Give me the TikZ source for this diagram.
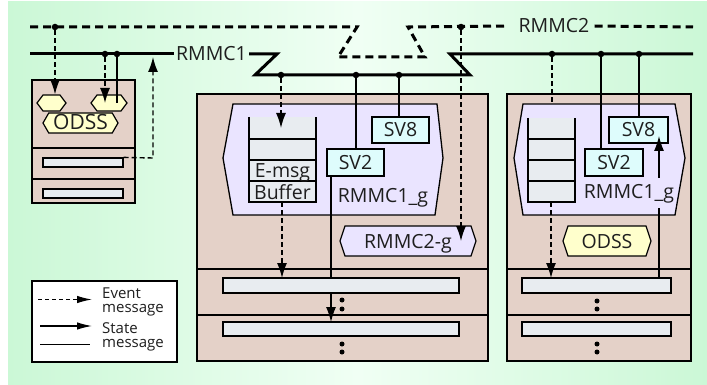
\documentclass[tikz,border=0pt]{standalone}
\usepackage{fontspec}
\setmainfont{Open Sans}
\usetikzlibrary{arrows.meta,shapes.symbols}

\definecolor{bggreen}{RGB}{166,240,184}
\definecolor{bgpale}{RGB}{240,255,244}
\definecolor{unitfill}{RGB}{228,209,200}
\definecolor{groupfill}{RGB}{234,228,255}
\definecolor{barfill}{RGB}{232,236,240}
\definecolor{svfill}{RGB}{222,252,252}
\definecolor{odssfill}{RGB}{255,255,204}
\definecolor{ink}{RGB}{30,30,30}

% green at both sides, almost white in the middle
\pgfdeclarehorizontalshading{bgshade}{100bp}{color(0bp)=(bggreen); color(50bp)=(bgpale); color(100bp)=(bggreen)}

\newcommand\lblfont{\fontsize{19.5}{21}\selectfont}
\newcommand\legfont{\fontsize{15}{16}\selectfont}

\begin{document}
\begin{tikzpicture}[x=1pt,y=-1pt,line join=miter,
  bus/.style={line width=3pt},
  busdash/.style={line width=3pt,dash pattern=on 8pt off 5pt},
  evt/.style={line width=1.4pt,dash pattern=on 5pt off 3pt},
  sta/.style={line width=1.2pt},
  tip/.style={-{Latex[length=15pt,width=10pt]}},
  legtip/.style={-{Latex[length=15pt,width=7.5pt]}},
  tap/.style={circle,fill,inner sep=0pt,minimum size=6.5pt},
  pip/.style={circle,fill,inner sep=0pt,minimum size=5pt},
  box/.style={draw,line width=1.3pt,inner sep=0pt},
  unit/.style={box,fill=unitfill},
  bar/.style={box,fill=barfill,line width=1.2pt},
  caps/.style={text=ink,font=\lblfont,text height=14pt,text depth=0pt,inner sep=0pt},
  svbox/.style={box,caps,fill=svfill},
  hexbox/.style={signal,signal to=west and east,signal from=nowhere,draw,
    line width=1.2pt,caps},
  group/.style={draw,line width=1.3pt,fill=groupfill},
  buslabel/.style={text=ink,font=\lblfont,inner sep=2pt,text height=14pt,text depth=0pt},
  legtext/.style={text=ink,font=\legfont,anchor=base west,inner sep=0pt}
]
\useasboundingbox (0,0) rectangle (707,385);
\fill[white] (0,0) rectangle (707,385);
\shade[shading=bgshade] (8,2) rectangle (707,385);

% ---------- processing units ----------
\node[unit,minimum width=103pt,minimum height=123pt] (uleft) at (83.5,141.5) {};
\draw[sta] (32,148) -- (135,148) (32,179) -- (135,179);
\node[unit,minimum width=291pt,minimum height=267pt] (umid) at (342.5,227.5) {};
\draw[sta] (197,269) -- (488,269) (197,315) -- (488,315);
\node[unit,minimum width=184pt,minimum height=267pt] (uright) at (599,227.5) {};
\draw[sta] (507,269) -- (691,269) (507,315) -- (691,315);

% ---------- group outlines ----------
\draw[group] (233,104) -- (437,104) -- (443,158) -- (435,215) -- (233,215) -- (223,158) -- cycle;
\draw[group] (523,104) -- (675,104) -- (685,158) -- (675,215) -- (523,215) -- (514,158) -- cycle;

% ---------- message buffers (open at the top) ----------
\fill[barfill] (249,117) rectangle (316,202);
\draw[sta] (249,117) -- (249,202) -- (316,202) -- (316,117);
\draw[sta] (249,139) -- (316,139) (249,160) -- (316,160) (249,181) -- (316,181);
\node[caps] (emsg) at (282.5,170.5) {E-msg};
\node[caps] (buffer) at (282.5,192) {Buffer};

\fill[barfill] (528,118) rectangle (575,202);
\draw[sta] (528,118) -- (528,202) -- (575,202) -- (575,118);
\draw[sta] (528,139) -- (575,139) (528,160) -- (575,160) (528,181) -- (575,181);

% ---------- state variables and group names ----------
\node[svbox,minimum width=57pt,minimum height=26pt] (sv8m) at (400.5,130) {SV8};
\node[svbox,minimum width=57pt,minimum height=27pt] (sv2m) at (355.5,162.5) {SV2};
\node[caps] (gmid) at (383,195) {RMMC1\_g};
\node[svbox,minimum width=59pt,minimum height=26pt] (sv8r) at (638.5,130) {SV8};
\node[svbox,minimum width=58pt,minimum height=27pt] (sv2r) at (614,162.5) {SV2};
\node[caps] (gright) at (629,191.5) {RMMC1\_g};

% ---------- gateways and ODSS ----------
\node[hexbox,fill=groupfill,minimum width=136pt,minimum height=30pt,signal pointer angle=143] (g2) at (408,241) {RMMC2-g};
\node[hexbox,fill=odssfill,minimum width=88pt,minimum height=30pt,signal pointer angle=143] (odssr) at (607,241) {ODSS};
\node[hexbox,fill=odssfill,minimum width=75pt,minimum height=20pt,signal pointer angle=120] (odssl) at (80.5,123) {\fontsize{21}{22}\selectfont ODSS};
\node[hexbox,fill=odssfill,minimum width=29pt,minimum height=16pt,signal pointer angle=106] (h1) at (51.5,103) {};
\node[hexbox,fill=odssfill,minimum width=36pt,minimum height=16pt,signal pointer angle=106] (h2) at (109,103) {};

% ---------- networks ----------
\node[buslabel] (n2) at (554,26) {RMMC2};
\draw[busdash] (30,27) -- (357,27) -- (338,57) -- (425,57) -- (408,27) -- ([xshift=-11pt]n2.west);
\draw[busdash] ([xshift=3pt]n2.east) -- (693,27);
\node[buslabel] (n1) at (211.5,54) {RMMC1};
\draw[bus] (30,54) -- (n1.west);
\draw[bus] (n1.east) -- (277,54) -- (255,75) -- (470,75) -- (450,54) -- (693,54);

\node[tap] (t1) at (55,27) {};
\node[tap] (t2) at (461,27) {};
\node[tap] (t3) at (105,54) {};
\node[tap] (t4) at (117,54) {};
\node[tap] (t5) at (281,75) {};
\node[tap] (t6) at (356,75) {};
\node[tap] (t7) at (399,75) {};
\node[tap] (t8) at (552,54) {};
\node[tap] (t9) at (601,54) {};
\node[tap] (t10) at (639,54) {};

% ---------- connections (drawn below the slot bars) ----------
\coordinate (b1top) at (282,278);
\coordinate (b2top) at (331,322);
\coordinate (sv2foot) at (331,176);
\coordinate (buftop) at (281,128);
\coordinate (bufbot) at (282,202);
\draw[sta,tip] (sv2foot) -- (b2top);
\draw[evt,tip] (bufbot) -- (b1top);
\draw[evt,tip] (t5) -- (buftop);
\draw[sta] (t6) -- (sv2m.north -| t6);
\draw[sta] (t7) -- (sv8m.north -| t7);
\draw[evt,tip] (t2) -- (t2 |- g2.center);

\coordinate (rbufbot) at (551,202);
\coordinate (rb1top) at (551,278);
\coordinate (rgtop) at (552,104);
\coordinate (svfoot) at (659,278);
\coordinate (svgapb) at (659,208);
\coordinate (svgapt) at (659,178);
\coordinate (svhead) at (659,136);
\draw[evt] (t8) -- (rgtop);
\draw[evt,tip] (rbufbot) -- (rb1top);
\draw[sta] (t9) -- (sv2r.north -| t9);
\draw[sta] (t10) -- (sv8r.north -| t10);
\draw[sta] (svfoot) -- (svgapb);
\draw[sta,tip] (svgapt) -- (svhead);

\draw[evt,tip] (t1) -- (t1 |- h1.north);
\draw[evt,tip] (t3) -- (t3 |- h2.center);
\draw[sta] (t4) -- (t4 |- h2.center);

% ---------- slot bars ----------
\node[bar,minimum width=80pt,minimum height=9pt] (lb1) at (83,162.5) {};
\node[bar,minimum width=80pt,minimum height=9pt] (lb2) at (83,193.5) {};
\node[bar,minimum width=236pt,minimum height=15pt] (mb1) at (341,285.5) {};
\node[bar,minimum width=236pt,minimum height=14pt] (mb2) at (341,329) {};
\node[bar,minimum width=149pt,minimum height=15pt] (rb1) at (596.5,285.5) {};
\node[bar,minimum width=149pt,minimum height=14pt] (rb2) at (596.5,329) {};

\coordinate (upturn) at (153,158);
\coordinate (uphead) at (153,57);
\draw[evt,tip] (lb1.north east) -- (upturn) -- (uphead);

% continuation marks
\node[pip] (c1) at (342,300) {};
\node[pip] (c2) at (342,309) {};
\node[pip] (c3) at (342,344) {};
\node[pip] (c4) at (342,352) {};
\node[pip] (c5) at (597,301) {};
\node[pip] (c6) at (597,309) {};
\node[pip] (c7) at (597,344) {};
\node[pip] (c8) at (597,352) {};

% ---------- legend ----------
\node[box,fill=white,line width=1.2pt,minimum width=145pt,minimum height=81pt] (legend) at (104.5,321.5) {};
\coordinate (le1) at (38,299.5);
\coordinate (le2) at (92,299.5);
\coordinate (ls1) at (40,326);
\coordinate (ls2) at (92,326);
\coordinate (ll1) at (40,344.5);
\coordinate (ll2) at (90,344.5);
\draw[line width=1.2pt,dash pattern=on 4pt off 3pt,legtip] (le1) -- (le2);
\draw[sta,legtip] (ls1) -- (ls2);
\draw[sta] (ll1) -- (ll2);
\node[legtext] (lt1) at (102,298) {Event};
\node[legtext] (lt2) at (102,312.5) {message};
\node[legtext] (lt3) at (102,333) {State};
\node[legtext] (lt4) at (102,347.5) {message};
\end{tikzpicture}
\end{document}
